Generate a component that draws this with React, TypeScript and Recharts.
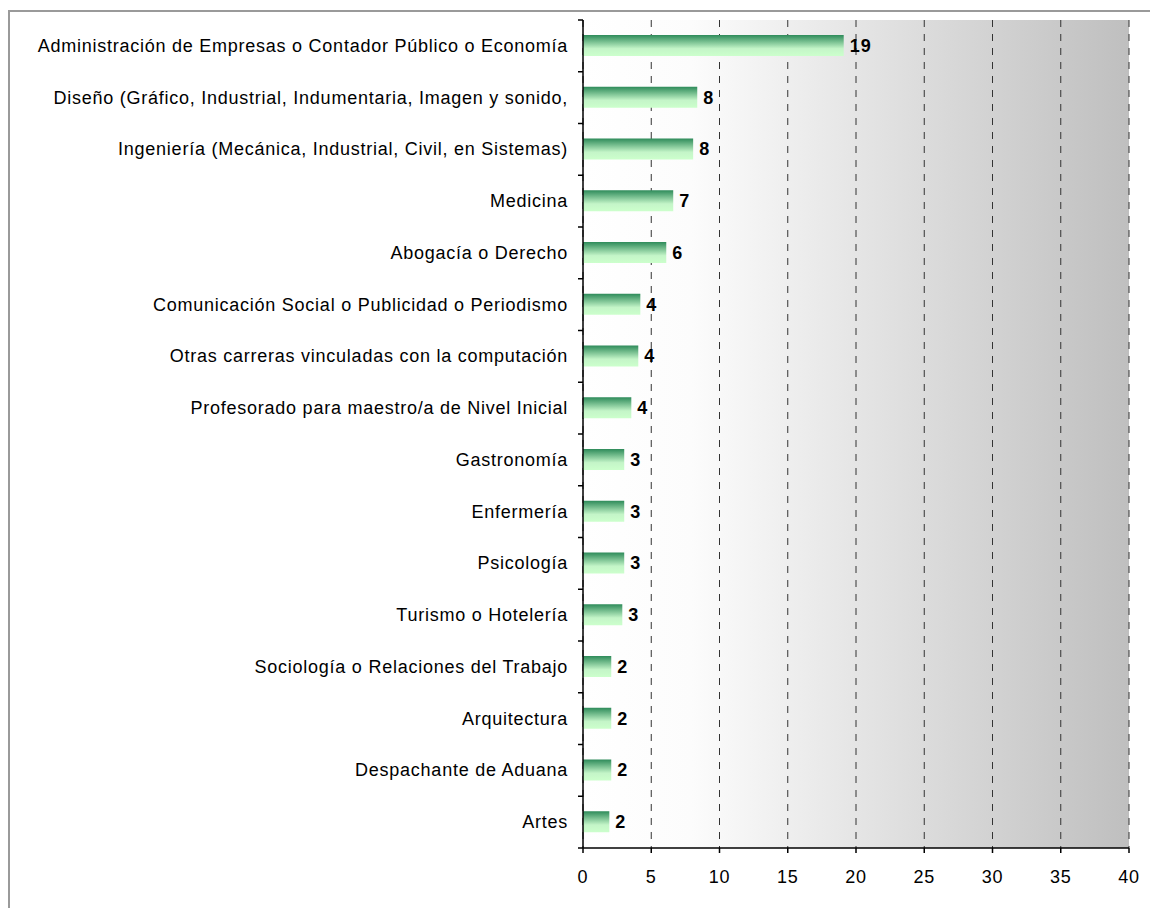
import {
  Bar,
  BarChart,
  CartesianGrid,
  LabelList,
  XAxis,
  YAxis,
} from "recharts";

const careers = [
  "Administración de Empresas o Contador Público o Economía",
  "Diseño (Gráfico, Industrial, Indumentaria, Imagen y sonido,",
  "Ingeniería (Mecánica, Industrial, Civil, en Sistemas)",
  "Medicina",
  "Abogacía o Derecho",
  "Comunicación Social o Publicidad o Periodismo",
  "Otras carreras vinculadas con la computación",
  "Profesorado para maestro/a de Nivel Inicial",
  "Gastronomía",
  "Enfermería",
  "Psicología",
  "Turismo o Hotelería",
  "Sociología o Relaciones del Trabajo",
  "Arquitectura",
  "Despachante de Aduana",
  "Artes",
];

const percentages = [
  19.1, 8.37, 8.07, 6.61, 6.1, 4.2, 4.05, 3.54, 3.02, 3.02, 3.02, 2.88, 2.07,
  2.07, 2.07, 1.93,
];

const xTicks = [0, 5, 10, 15, 20, 25, 30, 35, 40];

const data = careers.map((name, i) => ({ name, value: percentages[i] }));

const FONT = "'Liberation Sans', Arial, sans-serif";
const W = 1150;
const H = 900;
const MARGIN = { top: 12, right: 29, bottom: 20, left: 0 };
const X_AXIS_H = 40;
const Y_AXIS_W = 575;
const BAND = (H - MARGIN.top - MARGIN.bottom - X_AXIS_H) / careers.length;

function CategoryTick(props: any) {
  const { x, y, payload, index } = props;
  const axisX = x + 5;
  return (
    <g>
      <line x1={axisX - 5} x2={axisX} y1={y - BAND / 2} y2={y - BAND / 2} stroke="#000" strokeWidth={1.5} />
      {index === careers.length - 1 && (
        <line x1={axisX - 5} x2={axisX} y1={y + BAND / 2} y2={y + BAND / 2} stroke="#000" strokeWidth={1.5} />
      )}
      <text
        x={axisX - 15}
        y={y}
        textAnchor="end"
        dominantBaseline="central"
        fontSize={18}
        letterSpacing={0.75}
        fill="#000"
        fontFamily={FONT}
      >
        {payload.value}
      </text>
    </g>
  );
}

export default function App() {
  return (
    <div style={{ position: "relative", width: W, height: H, fontFamily: FONT }}>
      <div
        style={{
          position: "absolute",
          left: 0,
          top: 2,
          width: W,
          height: H - 2,
          borderLeft: "2px solid #9a9a9a",
          borderTop: "2px solid #9a9a9a",
          boxSizing: "border-box",
        }}
      />
      <BarChart
        width={W}
        height={H}
        data={data}
        layout="vertical"
        margin={MARGIN}
        barCategoryGap={0}
        style={{ position: "relative" }}
      >
        <defs>
          <linearGradient id="plotBg" x1="0" y1="0" x2="1" y2="0">
            <stop offset="0%" stopColor="#ffffff" />
            <stop offset="20%" stopColor="#fcfcfc" />
            <stop offset="100%" stopColor="#bfbfbf" />
          </linearGradient>
          <linearGradient id="barFill" x1="0" y1="0" x2="0" y2="1">
            <stop offset="0%" stopColor="#2e8b5a" />
            <stop offset="65%" stopColor="#c4f5c8" />
            <stop offset="100%" stopColor="#ccffcc" />
          </linearGradient>
        </defs>
        <CartesianGrid
          horizontal={false}
          fill="url(#plotBg)"
          fillOpacity={1}
          stroke="#333"
          strokeDasharray="7 7"
        />
        <XAxis
          type="number"
          domain={[0, 40]}
          ticks={xTicks}
          height={X_AXIS_H}
          tickSize={5}
          tickMargin={17}
          axisLine={{ stroke: "#000", strokeWidth: 1.5 }}
          tickLine={{ stroke: "#000", strokeWidth: 1.5 }}
          tick={{ fontSize: 18, fill: "#000", fontFamily: FONT, letterSpacing: 0.75 }}
        />
        <XAxis
          xAxisId="top"
          orientation="top"
          type="number"
          domain={[0, 40]}
          height={0}
          tick={false}
          tickLine={false}
          axisLine={{ stroke: "#999", strokeWidth: 1.5 }}
        />
        <YAxis
          type="category"
          dataKey="name"
          width={Y_AXIS_W}
          tickLine={false}
          tickSize={5}
          tickMargin={0}
          interval={0}
          axisLine={{ stroke: "#000", strokeWidth: 1.5 }}
          tick={<CategoryTick />}
        />
        <YAxis
          yAxisId="right"
          orientation="right"
          type="category"
          dataKey="name"
          width={0}
          tick={false}
          tickLine={false}
          axisLine={{ stroke: "#999", strokeWidth: 1.5 }}
        />
        <Bar dataKey="value" fill="url(#barFill)" barSize={21} isAnimationActive={false}>
          <LabelList
            dataKey="value"
            position="right"
            offset={6}
            formatter={(v: any) => Math.round(Number(v))}
            style={{ fontSize: 18, fontWeight: "bold", fill: "#000", fontFamily: FONT, letterSpacing: 1 }}
          />
        </Bar>
      </BarChart>
    </div>
  );
}
